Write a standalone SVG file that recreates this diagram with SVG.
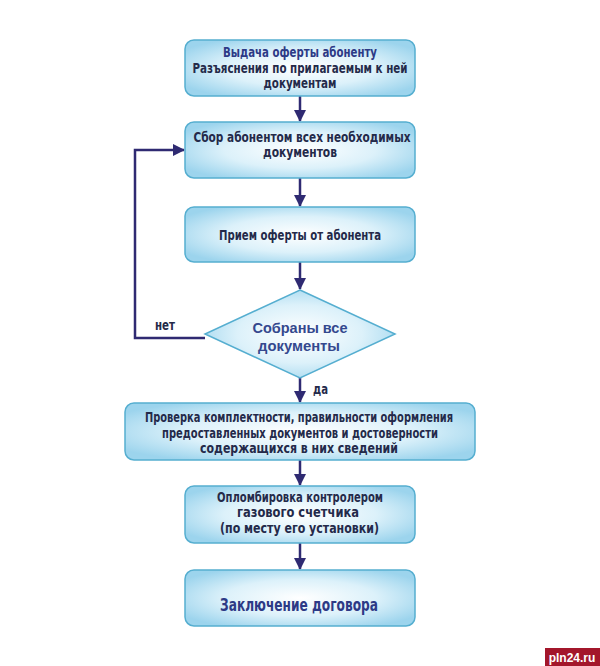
<svg xmlns="http://www.w3.org/2000/svg" width="600" height="666" viewBox="0 0 600 666">
<defs>
<radialGradient id="g" cx="0.5" cy="0.5" r="0.6">
<stop offset="0" stop-color="#ffffff"/>
<stop offset="0.55" stop-color="#dcf1fa"/>
<stop offset="1" stop-color="#9cd4ed"/>
</radialGradient>
<marker id="ah" markerWidth="12" markerHeight="12" viewBox="0 0 12 12" refX="11" refY="6" orient="auto" markerUnits="userSpaceOnUse">
<path d="M0,0 L12,6 L0,12 Z" fill="#2f2a72"/>
</marker>
<style>
.box{fill:url(#g);stroke:#55aed0;stroke-width:1.5}
.t{font-family:"Liberation Sans Narrow","DejaVu Sans Condensed","Liberation Sans",sans-serif;font-weight:bold;font-size:14px;fill:#242a4a;text-anchor:middle}
.h{fill:#2d3a86}
.d{font-family:"Liberation Sans","DejaVu Sans",sans-serif;font-weight:bold;font-size:15.5px;fill:#34488e;text-anchor:middle}
.c{stroke:#2f2a72;stroke-width:2.5;fill:none}
</style>
</defs>
<rect width="600" height="666" fill="#ffffff"/>
<g id="connectors">
<line class="c" x1="300" y1="96" x2="300" y2="121" marker-end="url(#ah)"/>
<line class="c" x1="300" y1="178" x2="300" y2="206" marker-end="url(#ah)"/>
<line class="c" x1="300" y1="262" x2="300" y2="289" marker-end="url(#ah)"/>
<line class="c" x1="300" y1="378" x2="300" y2="402" marker-end="url(#ah)"/>
<line class="c" x1="300" y1="460" x2="300" y2="485" marker-end="url(#ah)"/>
<line class="c" x1="300" y1="543" x2="300" y2="569" marker-end="url(#ah)"/>
<polyline class="c" points="205,338 135,338 135,150 184,150" marker-end="url(#ah)"/>
<text class="t" x="165" y="330" textLength="20" lengthAdjust="spacingAndGlyphs">нет</text>
<text class="t" x="320.5" y="394" textLength="15" lengthAdjust="spacingAndGlyphs">да</text>
</g>
<g id="n1">
<rect class="box" x="185" y="40" width="230" height="56" rx="9"/>
<text class="t h" x="300" y="57" textLength="154" lengthAdjust="spacingAndGlyphs">Выдача оферты абоненту</text>
<text class="t" x="300" y="73" textLength="215" lengthAdjust="spacingAndGlyphs">Разъяснения по прилагаемым к ней</text>
<text class="t" x="300" y="88" textLength="73" lengthAdjust="spacingAndGlyphs">документам</text>
</g>
<g id="n2">
<rect class="box" x="185" y="122" width="230" height="56" rx="9"/>
<text class="t" x="302" y="142" textLength="217" lengthAdjust="spacingAndGlyphs">Сбор абонентом всех необходимых</text>
<text class="t" x="300" y="157" textLength="74" lengthAdjust="spacingAndGlyphs">документов</text>
</g>
<g id="n3">
<rect class="box" x="185" y="207" width="230" height="55" rx="9"/>
<text class="t" x="300" y="240" textLength="162" lengthAdjust="spacingAndGlyphs">Прием оферты от абонента</text>
</g>
<g id="n4">
<polygon class="box" points="300,290 395,334 300,378 205,334"/>
<text class="d" x="300" y="333" textLength="95" lengthAdjust="spacingAndGlyphs">Собраны все</text>
<text class="d" x="299" y="351" textLength="82" lengthAdjust="spacingAndGlyphs">документы</text>
</g>
<g id="n5">
<rect class="box" x="125" y="403" width="350" height="57" rx="9"/>
<text class="t" x="299" y="422" textLength="308" lengthAdjust="spacingAndGlyphs">Проверка комплектности, правильности оформления</text>
<text class="t" x="300" y="438" textLength="276" lengthAdjust="spacingAndGlyphs">предоставленных документов и достоверности</text>
<text class="t" x="299" y="453" textLength="198" lengthAdjust="spacingAndGlyphs">содержащихся в них сведений</text>
</g>
<g id="n6">
<rect class="box" x="185" y="486" width="230" height="57" rx="9"/>
<text class="t" x="300" y="502" textLength="166" lengthAdjust="spacingAndGlyphs">Опломбировка контролером</text>
<text class="t" x="298" y="517" textLength="122" lengthAdjust="spacingAndGlyphs">газового счетчика</text>
<text class="t" x="299.5" y="533" textLength="159" lengthAdjust="spacingAndGlyphs">(по месту его установки)</text>
</g>
<g id="n7">
<rect class="box" x="185" y="570" width="230" height="56" rx="9"/>
<text class="t h" x="299" y="611" style="font-size:18px" textLength="158" lengthAdjust="spacingAndGlyphs">Заключение договора</text>
</g>
<g id="watermark">
<rect x="545" y="648" width="55" height="18" fill="#a3162b"/>
<text x="572" y="662" font-family="Liberation Sans, sans-serif" font-weight="bold" font-size="12" fill="#ffffff" text-anchor="middle">pln24.ru</text>
</g>
</svg>
